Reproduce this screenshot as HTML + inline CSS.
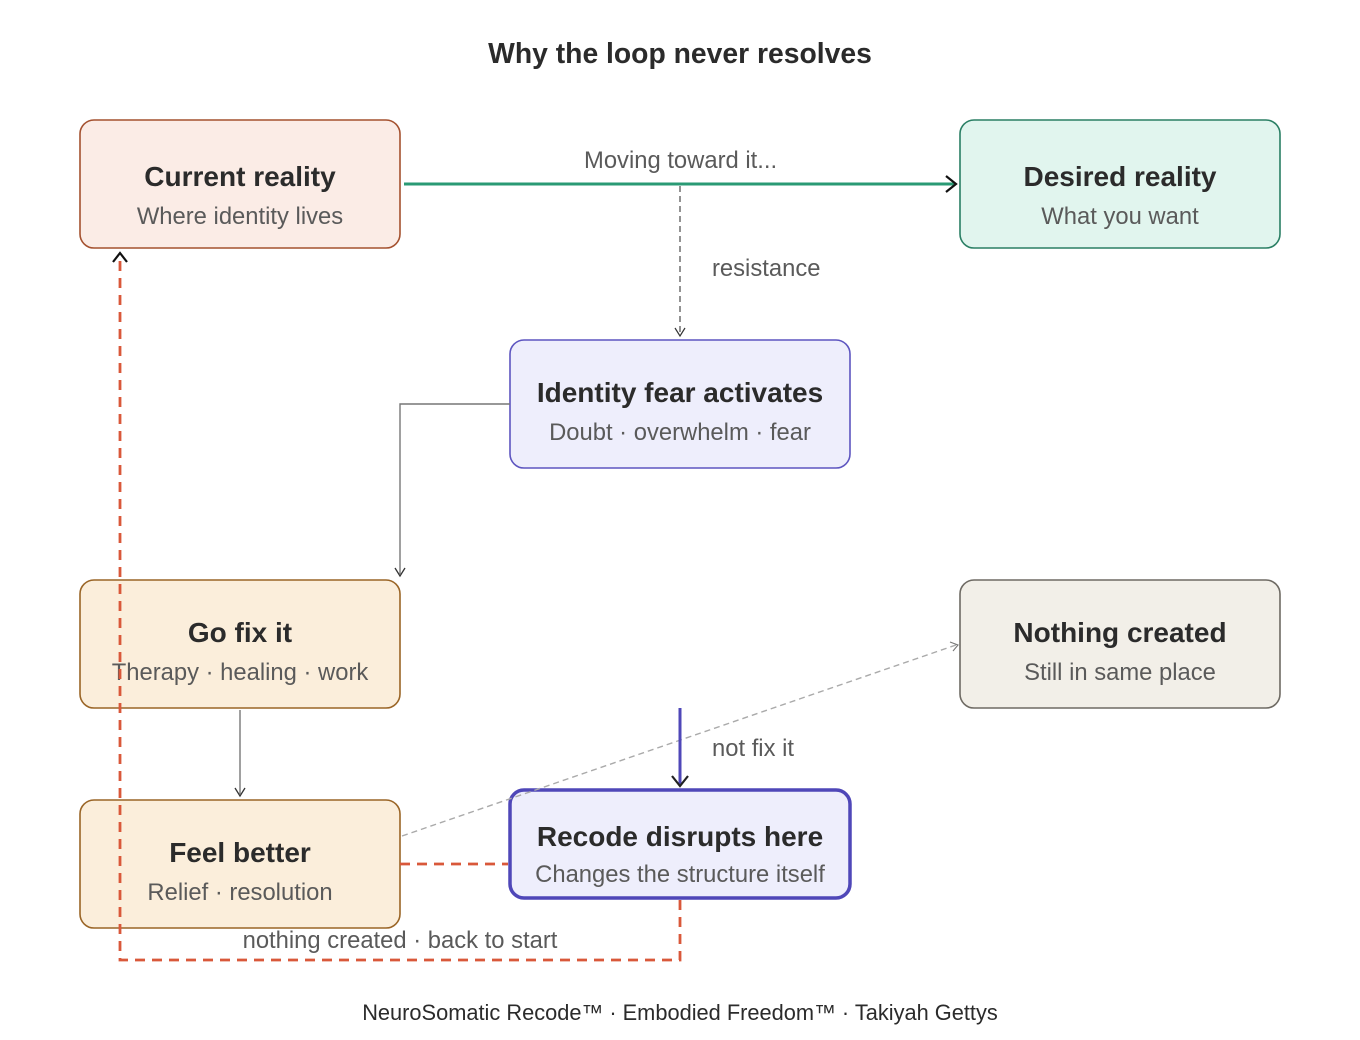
<!DOCTYPE html>
<html><head><meta charset="utf-8"><style>
html,body{margin:0;padding:0;background:#fff}
svg{display:block}
text{font-family:"Liberation Sans",sans-serif}
.t{font-size:28px;font-weight:bold;fill:#2b2b2b;text-anchor:middle}
.s{font-size:23.8px;fill:#5a5a5a;text-anchor:middle}
.l{font-size:23.8px;fill:#5a5a5a}
</style></head><body>
<svg width="1360" height="1040" viewBox="0 0 1360 1040" xmlns="http://www.w3.org/2000/svg">
<text x="680" y="63" style="font-size:28.3px;font-weight:bold;fill:#2b2b2b;text-anchor:middle">Why the loop never resolves</text>

<rect x="80" y="120" width="320" height="128" rx="14" fill="#fbece6" stroke="#a4512f" stroke-width="1.6"/>
<text class="t" x="240" y="186">Current reality</text>
<text class="s" x="240" y="224">Where identity lives</text>

<rect x="960" y="120" width="320" height="128" rx="14" fill="#e1f5ee" stroke="#2a7f64" stroke-width="1.6"/>
<text class="t" x="1120" y="186">Desired reality</text>
<text class="s" x="1120" y="224">What you want</text>

<rect x="510" y="340" width="340" height="128" rx="14" fill="#eeeefc" stroke="#5d55c0" stroke-width="1.6"/>
<text class="t" x="680" y="402">Identity fear activates</text>
<text class="s" x="680" y="440">Doubt · overwhelm · fear</text>

<rect x="80" y="580" width="320" height="128" rx="14" fill="#fbeedb" stroke="#9a6526" stroke-width="1.6"/>
<text class="t" x="240" y="642">Go fix it</text>
<text class="s" x="240" y="680">Therapy · healing · work</text>

<rect x="960" y="580" width="320" height="128" rx="14" fill="#f2efe8" stroke="#6e6a63" stroke-width="1.6"/>
<text class="t" x="1120" y="642">Nothing created</text>
<text class="s" x="1120" y="680">Still in same place</text>

<rect x="80" y="800" width="320" height="128" rx="14" fill="#fbeedb" stroke="#9a6526" stroke-width="1.6"/>
<text class="t" x="240" y="862">Feel better</text>
<text class="s" x="240" y="900">Relief · resolution</text>

<rect x="510" y="790" width="340" height="108" rx="14" fill="#eeeefc" stroke="#4f47b8" stroke-width="3.5"/>
<text class="t" x="680" y="846">Recode disrupts here</text>
<text class="s" x="680" y="882">Changes the structure itself</text>

<line x1="404" y1="184" x2="954" y2="184" stroke="#2a9a74" stroke-width="3"/>
<path d="M946 176 L956 184 L946 192" fill="none" stroke="#111" stroke-width="2.2"/>
<text class="l" x="584" y="168">Moving toward it...</text>

<line x1="680" y1="186" x2="680" y2="334" stroke="#777" stroke-width="1.6" stroke-dasharray="6,4"/>
<path d="M675 328 L680 336 L685 328" fill="none" stroke="#333" stroke-width="1.2"/>
<text class="l" x="712" y="276">resistance</text>

<path d="M510 404 H400 V574" fill="none" stroke="#777" stroke-width="1.4"/>
<path d="M395 568 L400 576 L405 568" fill="none" stroke="#333" stroke-width="1.3"/>

<line x1="240" y1="710" x2="240" y2="794" stroke="#777" stroke-width="1.4"/>
<path d="M235 788 L240 796 L245 788" fill="none" stroke="#333" stroke-width="1.3"/>

<line x1="402" y1="836" x2="956" y2="645" stroke="#aaa" stroke-width="1.4" stroke-dasharray="6,4"/>
<path d="M950 642 L958 645 L953 651" fill="none" stroke="#777" stroke-width="1.1"/>

<line x1="680" y1="708" x2="680" y2="784" stroke="#4f47b8" stroke-width="3"/>
<path d="M672 776 L680 786 L688 776" fill="none" stroke="#222" stroke-width="2.2"/>
<text class="l" x="712" y="756">not fix it</text>

<path d="M400 864 H508" fill="none" stroke="#d9583a" stroke-width="2.8" stroke-dasharray="10,7"/>
<path d="M680 900 V960 H120 V258" fill="none" stroke="#d9583a" stroke-width="2.8" stroke-dasharray="10,7"/>
<path d="M113 262 L120 253 L127 262" fill="none" stroke="#111" stroke-width="2.2"/>
<text class="s" x="400" y="948">nothing created · back to start</text>

<text x="680" y="1020" style="font-size:21.8px;fill:#2b2b2b;text-anchor:middle">NeuroSomatic Recode™ · Embodied Freedom™ · Takiyah Gettys</text>
</svg>
</body></html>
